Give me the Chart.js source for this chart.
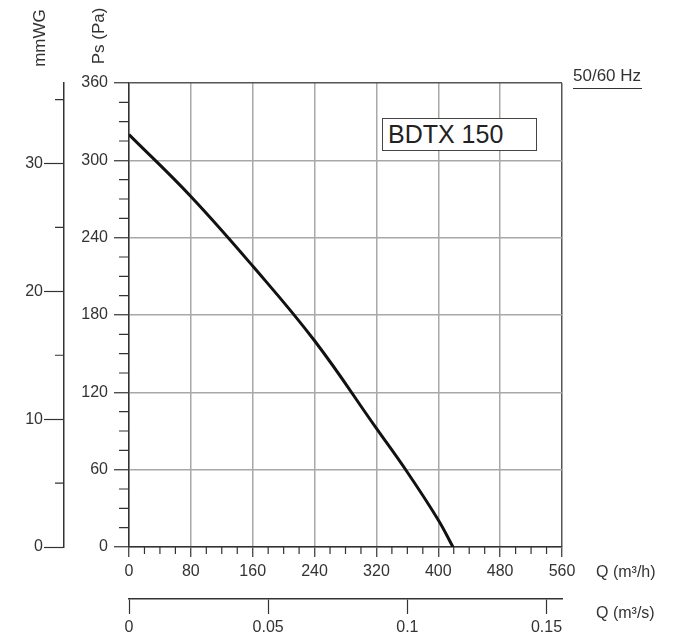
<!DOCTYPE html>
<html>
<head>
<meta charset="utf-8">
<script src="https://cdn.jsdelivr.net/npm/chart.js@4.4.1/dist/chart.umd.min.js"></script>
<style>
    body { margin: 0; background: #fff; }
    #wrap { position: relative; width: 673px; height: 640px; font-family: "Liberation Sans", Arial, sans-serif; color: #333; }
    #chartBox { position: absolute; left: 0; top: 0; width: 673px; height: 640px; }
    .lbl { position: absolute; white-space: nowrap; font-size: 16px; line-height: 1; }
    .rot { font-size: 17px; transform: translate(-50%, -50%) rotate(-90deg); }
    #hz { left: 573px; top: 67px; font-size: 17px; padding-bottom: 4px; border-bottom: 1px solid #333; padding-right: 1px; }
    #model { position: absolute; left: 382px; top: 118px; width: 155px; height: 33px; box-sizing: border-box;
             border: 1px solid #444; background: #fff; font-size: 25px; line-height: 30px; padding-left: 5px; color: #222; }
</style>
</head>
<body>
<div id="wrap">
    <div id="chartBox"><canvas id="fanChart"></canvas></div>
    <div class="lbl rot" style="left:39px; top:38px;">mmWG</div>
    <div class="lbl rot" style="left:98px; top:36px;">Ps (Pa)</div>
    <div class="lbl" id="hz">50/60 Hz</div>
    <div id="model">BDTX 150</div>
    <div class="lbl" style="left:596px; top:564px;">Q (m³/h)</div>
    <div class="lbl" style="left:596px; top:605px;">Q (m³/s)</div>
</div>
<script>
// tick labels
const paTicks = [0, 60, 120, 180, 240, 300, 360];
const mmTicks = [0, 10, 20, 30];
const qhTicks = [0, 80, 160, 240, 320, 400, 480, 560];
const qsTicks = [0, 0.05, 0.1, 0.15];

// fan curve (Q in m3/h, Ps in Pa)
const flowM3h = [0, 80, 160, 240, 320, 360, 400, 419];
const pressurePa = [320, 272, 218, 160, 92, 58, 21, 0];

Chart.defaults.font.family = '"Liberation Sans", Arial, sans-serif';
Chart.defaults.font.size = 16;
Chart.defaults.color = '#333';

const gridGray = '#a8a8a8';
const inkColor = '#333';

// short ticks between the labelled ones
const minorTicks = {
    id: 'minorTicks',
    afterDraw(chart) {
        const ctx = chart.ctx;
        const { x, y, yW } = chart.scales;
        ctx.save();
        ctx.strokeStyle = inkColor;
        ctx.lineWidth = 1.2;
        ctx.beginPath();
        for (let v = 20; v < 560; v += 20) {
            if (v % 80 === 0) continue;
            const px = x.getPixelForValue(v);
            ctx.moveTo(px, x.top);
            ctx.lineTo(px, x.top + 7);
        }
        for (let v = 15; v < 360; v += 15) {
            if (v % 60 === 0) continue;
            const py = y.getPixelForValue(v);
            ctx.moveTo(y.right - 10, py);
            ctx.lineTo(y.right, py);
        }
        for (let v = 5; v < yW.max; v += 10) {
            const py = yW.getPixelForValue(v);
            ctx.moveTo(yW.right - 9, py);
            ctx.lineTo(yW.right, py);
        }
        ctx.stroke();
        ctx.restore();
    }
};

function fixedTicks(list) {
    return function (scale) {
        scale.ticks = list.map(v => ({ value: v }));
    };
}

const ctx = document.getElementById('fanChart').getContext('2d');
new Chart(ctx, {
    type: 'line',
    data: {
        datasets: [{
            data: flowM3h.map((q, i) => ({ x: q, y: pressurePa[i] })),
            borderColor: '#111',
            borderWidth: 3,
            pointRadius: 0,
            tension: 0.4,
            xAxisID: 'x',
            yAxisID: 'y'
        }]
    },
    options: {
        responsive: true,
        maintainAspectRatio: false,
        animation: false,
        layout: { padding: { top: 83, right: 111, bottom: 0, left: 0 } },
        plugins: { legend: { display: false }, tooltip: { enabled: false } },
        scales: {
            x: {
                type: 'linear', position: 'bottom', min: 0, max: 560, weight: 0,
                afterBuildTicks: fixedTicks(qhTicks),
                afterFit: s => { s.height = 52; },
                grid: {
                    color: c => (c.tick && c.tick.value === 560 ? '#555' : gridGray),
                    lineWidth: 1.5, tickColor: inkColor, tickWidth: 1.2, tickLength: 10
                },
                border: { color: inkColor, width: 1.5 },
                ticks: { padding: 5, autoSkip: false, maxRotation: 0 }
            },
            xS: {
                type: 'linear', position: 'bottom', min: 0, max: 560 / 3600, weight: 1,
                afterBuildTicks: fixedTicks(qsTicks),
                afterFit: s => { s.height = 41; },
                grid: { drawOnChartArea: false, tickColor: inkColor, tickWidth: 1.2, tickLength: 15 },
                border: { color: inkColor, width: 1.5 },
                ticks: { padding: 4, autoSkip: false, maxRotation: 0, callback: v => String(v) }
            },
            y: {
                type: 'linear', position: 'left', min: 0, max: 360, weight: 0,
                afterBuildTicks: fixedTicks(paTicks),
                afterFit: s => { s.width = 65; },
                grid: {
                    color: c => (c.tick && c.tick.value === 360 ? '#555' : gridGray),
                    lineWidth: 1.5, tickColor: inkColor, tickWidth: 1.2, tickLength: 15
                },
                border: { color: inkColor, width: 1.5 },
                ticks: { padding: 6, autoSkip: false }
            },
            yW: {
                // mmWG scale as printed on the sheet (0..36.3 over the Pa range)
                type: 'linear', position: 'left', min: 0, max: 36.3, weight: 1,
                afterBuildTicks: fixedTicks(mmTicks),
                afterFit: s => { s.width = 64; },
                grid: { drawOnChartArea: false, tickColor: inkColor, tickWidth: 1.2, tickLength: 20 },
                border: { color: inkColor, width: 1.5 },
                ticks: { padding: 1, autoSkip: false }
            }
        }
    },
    plugins: [minorTicks]
});
</script>
</body>
</html>
